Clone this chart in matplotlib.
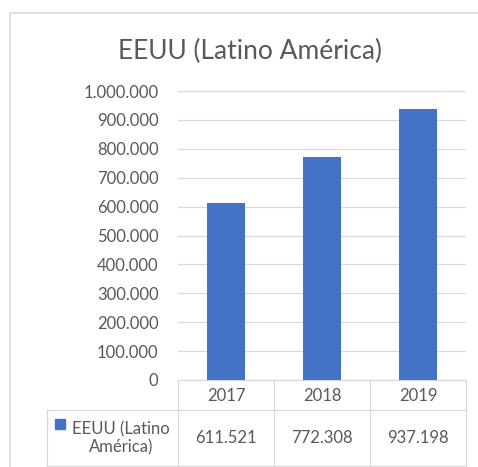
import matplotlib.pyplot as plt
from matplotlib.patches import Rectangle
from matplotlib.transforms import blended_transform_factory

years = ['2017', '2018', '2019']
values = [611521, 772308, 937198]
series_name = 'EEUU (Latino América)'
yticks = [0, 100000, 200000, 300000, 400000, 500000, 600000, 700000, 800000, 900000, 1000000]

BLUE = '#4472C4'
GRID = '#d9d9d9'
TEXT = '#595959'
FS = 12

plt.rcParams['font.family'] = ['Lato', 'DejaVu Sans']

W, H = 478, 467
fig = plt.figure(figsize=(W / 100, H / 100), dpi=100)

def fx(px):
    return px / W

def fy(py):
    return 1 - py / H

def fmt(v):
    return f'{v:,}'.replace(',', '.')

# chart frame (cut off on the right and bottom)
fig.patches.append(Rectangle((fx(10), fy(H + 10)), fx(500), fy(13) - fy(H + 10),
                             transform=fig.transFigure, fill=False,
                             edgecolor=GRID, linewidth=1.2))

left, right, top, bottom = 178, 466, 91, 380
ax = fig.add_axes([fx(left), fy(bottom), fx(right - left), fy(top) - fy(bottom)])

x = list(range(len(years)))
ax.bar(x, values, width=0.4, color=BLUE, zorder=3)
ax.set_xlim(-0.5, len(years) - 0.5)
ax.set_ylim(0, 1000000)
ax.set_yticks(yticks)
ax.set_yticklabels([fmt(v) for v in yticks], color=TEXT, fontsize=FS)
ax.tick_params(axis='y', length=0, pad=14)
ax.set_xticks([])
ax.grid(axis='y', color=GRID, linewidth=0.9, zorder=0)
for s in ax.spines.values():
    s.set_visible(False)

fig.text(fx(250), fy(51), series_name, ha='center', va='center', fontsize=19, color=TEXT)

# data table under the axis
tr = blended_transform_factory(ax.transData, ax.transAxes)
ah = bottom - top

def ay(py):
    return (bottom - py) / ah

row1, row2 = 410, 466
x0 = -0.5 - (left - 47) / 96.0
lines = [
    ([-0.5, 2.5], [ay(bottom), ay(bottom)]),
    ([x0, 2.5], [ay(row1), ay(row1)]),
    ([x0, 2.5], [ay(row2), ay(row2)]),
    ([x0, x0], [ay(row1), ay(row2)]),
]
for i in range(len(years) + 1):
    lines.append(([i - 0.5, i - 0.5], [ay(bottom), ay(row2)]))
for lx, ly in lines:
    ax.plot(lx, ly, color=GRID, linewidth=0.9, transform=tr, clip_on=False)

for i, (yr, v) in enumerate(zip(years, values)):
    ax.text(i, ay(396), yr, transform=tr, ha='center', va='center', fontsize=FS, color=TEXT)
    ax.text(i, ay(438), fmt(v), transform=tr, ha='center', va='center',
            fontsize=FS, color=TEXT)

# legend key inside the table
ax.plot([x0 + 13 / 96.0], [ay(424)], marker='s', markersize=7, color=BLUE,
        transform=tr, clip_on=False)
ax.text(x0 + 74 / 96.0, ay(438), 'EEUU (Latino\nAmérica)', transform=tr, ha='center',
        va='center', multialignment='center', fontsize=FS, color=TEXT, linespacing=1.15)

fig.savefig('out.png', dpi=100)
